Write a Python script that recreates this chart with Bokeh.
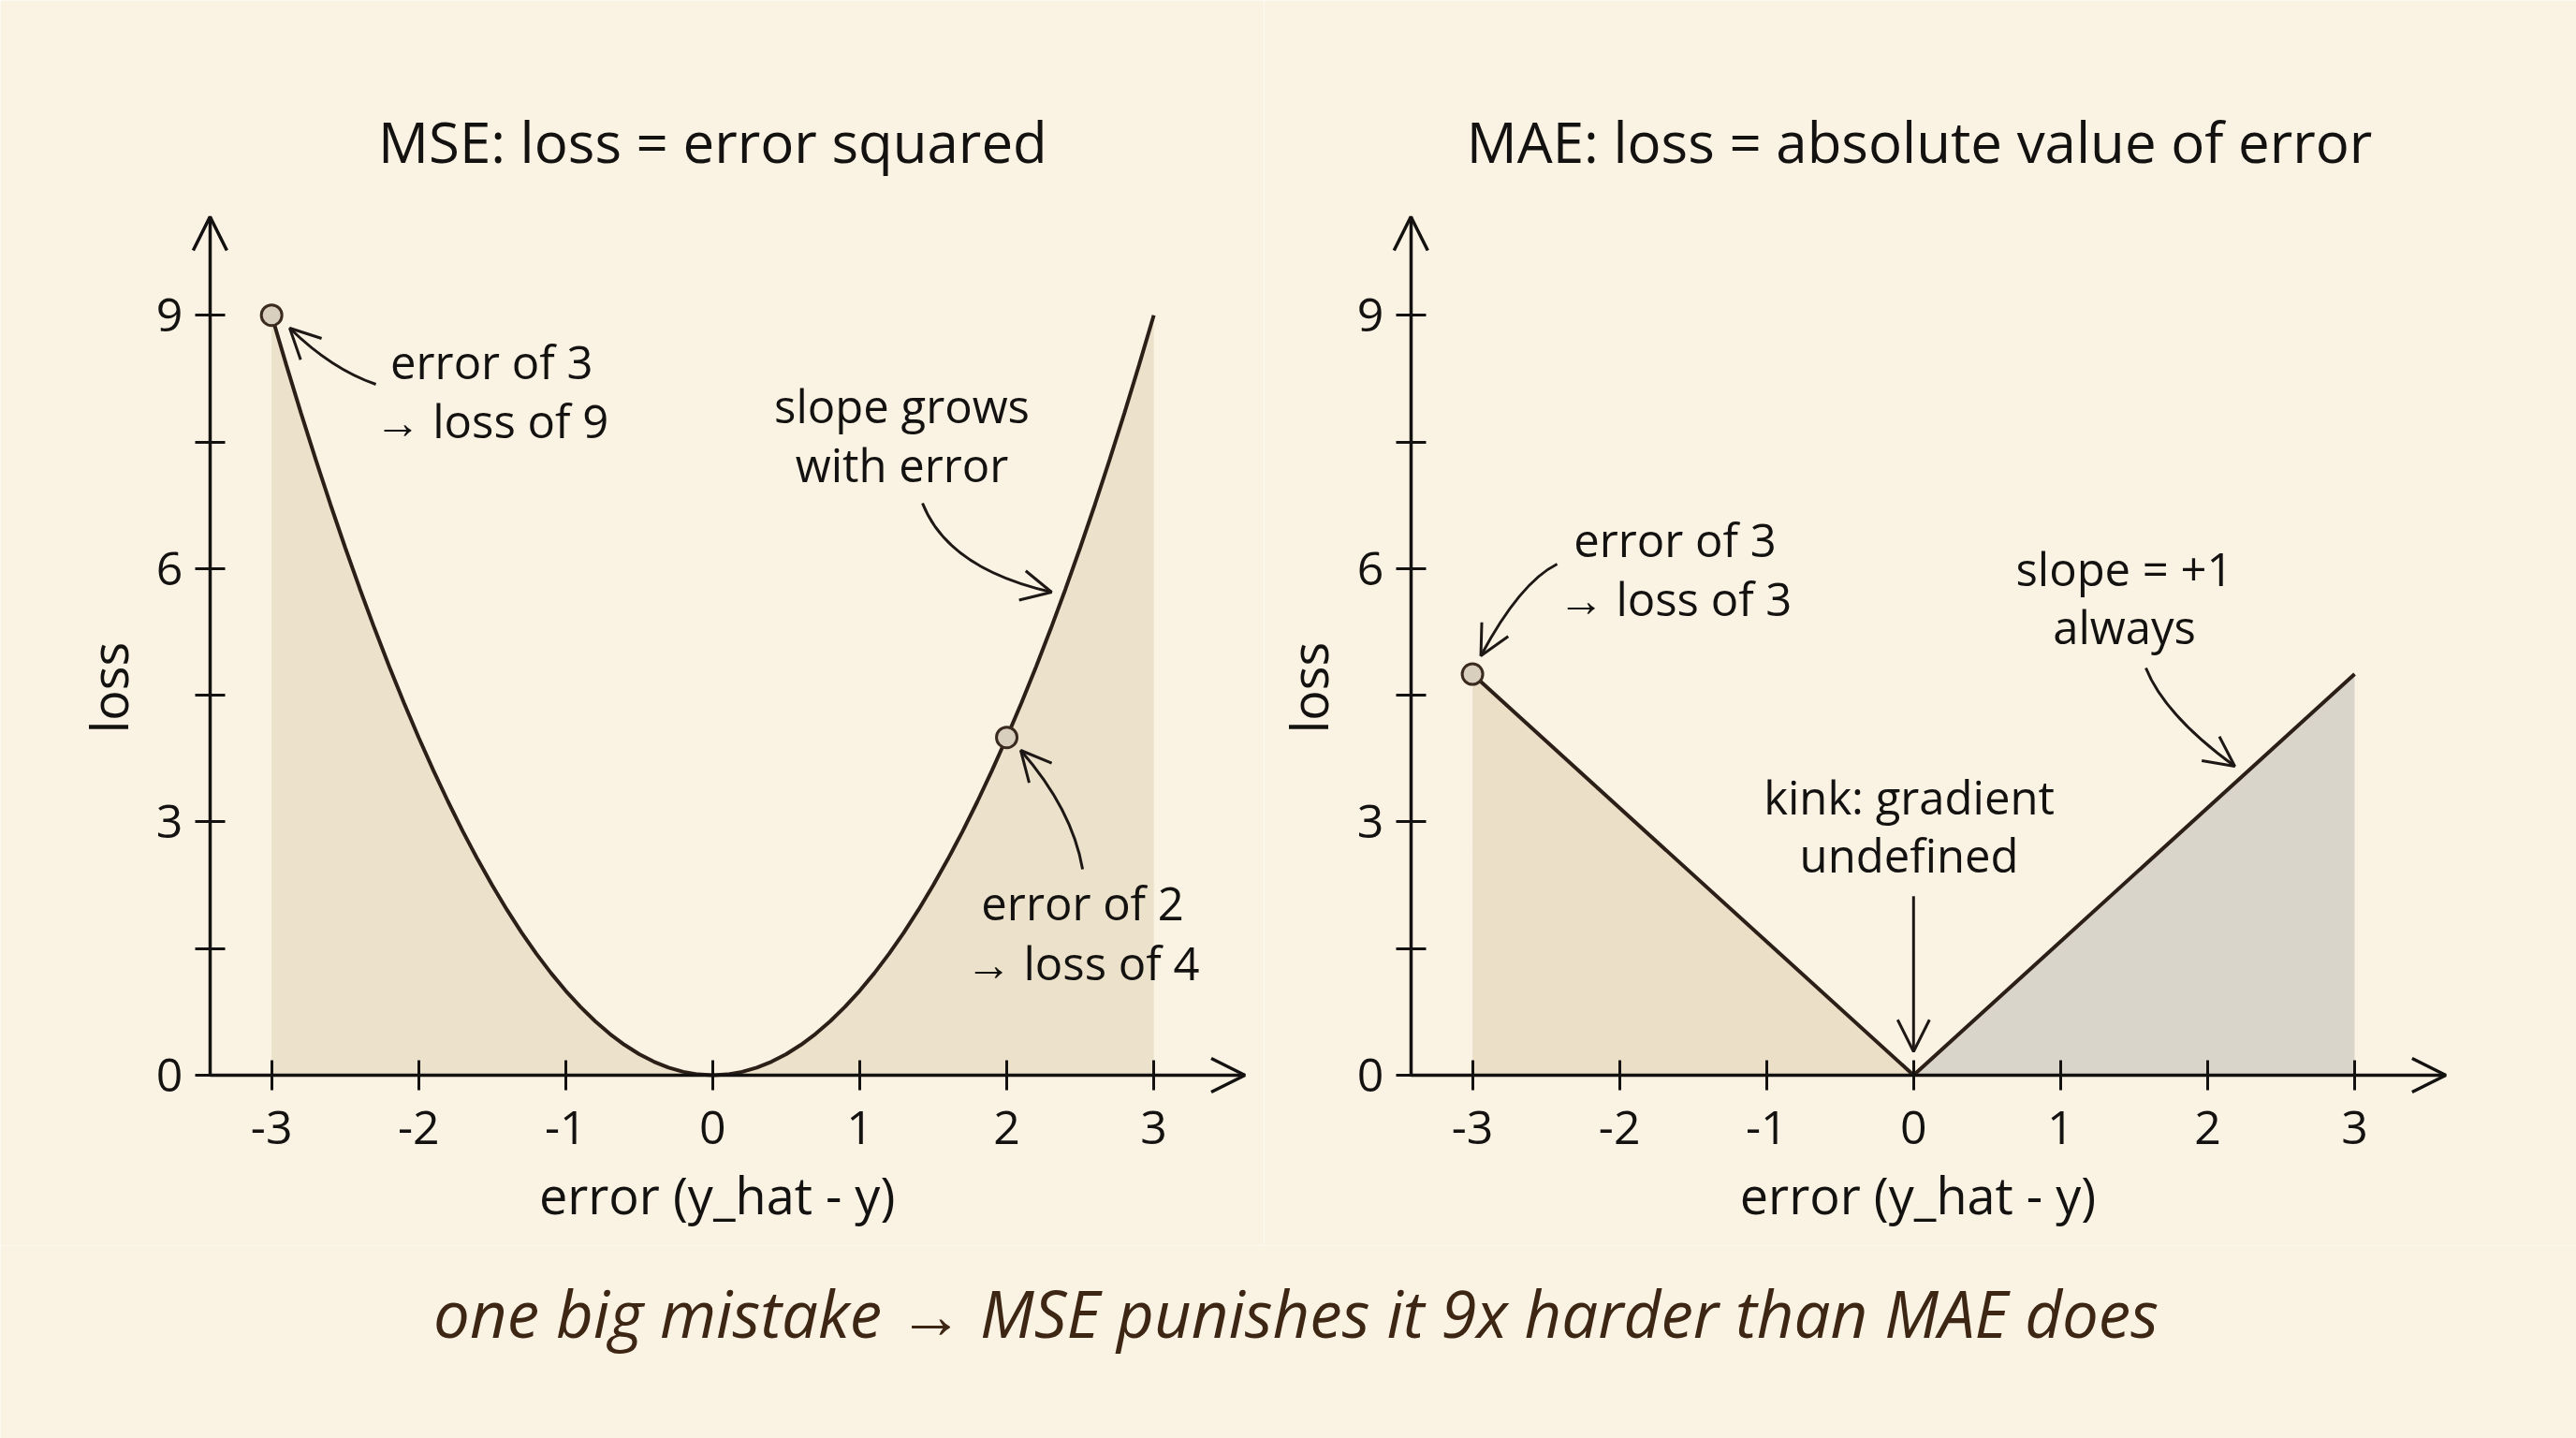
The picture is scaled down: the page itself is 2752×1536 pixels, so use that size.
import math
from bokeh.plotting import figure
from bokeh.layouts import column, row
from bokeh.models import ColumnDataSource, FixedTicker, Arrow, OpenHead, Label, Range1d
from bokeh.embed import file_html
from bokeh.resources import INLINE

# ---------------- data ----------------
errors = [-3.0, -2.9, -2.8, -2.7, -2.6, -2.5, -2.4, -2.3, -2.2, -2.1,
          -2.0, -1.9, -1.8, -1.7, -1.6, -1.5, -1.4, -1.3, -1.2, -1.1,
          -1.0, -0.9, -0.8, -0.7, -0.6, -0.5, -0.4, -0.3, -0.2, -0.1,
          0.0, 0.1, 0.2, 0.3, 0.4, 0.5, 0.6, 0.7, 0.8, 0.9,
          1.0, 1.1, 1.2, 1.3, 1.4, 1.5, 1.6, 1.7, 1.8, 1.9,
          2.0, 2.1, 2.2, 2.3, 2.4, 2.5, 2.6, 2.7, 2.8, 2.9, 3.0]
mse_loss = [9.0, 8.41, 7.84, 7.29, 6.76, 6.25, 5.76, 5.29, 4.84, 4.41,
            4.0, 3.61, 3.24, 2.89, 2.56, 2.25, 1.96, 1.69, 1.44, 1.21,
            1.0, 0.81, 0.64, 0.49, 0.36, 0.25, 0.16, 0.09, 0.04, 0.01,
            0.0, 0.01, 0.04, 0.09, 0.16, 0.25, 0.36, 0.49, 0.64, 0.81,
            1.0, 1.21, 1.44, 1.69, 1.96, 2.25, 2.56, 2.89, 3.24, 3.61,
            4.0, 4.41, 4.84, 5.29, 5.76, 6.25, 6.76, 7.29, 7.84, 8.41, 9.0]
mse_marked_error = [-3, 2]
mse_marked_loss = [9, 4]

mae_error = [-3, 0, 3]
mae_loss = [4.75, 0, 4.75]
mae_marked_error = [-3]
mae_marked_loss = [4.75]

x_ticks = [-3, -2, -1, 0, 1, 2, 3]
x_tick_labels = ["-3", "-2", "-1", "0", "1", "2", "3"]
y_ticks = [0, 3, 6, 9]
y_tick_labels = ["0", "3", "6", "9"]
y_minor_ticks = [1.5, 4.5, 7.5]

titles = ["MSE: loss = error squared", "MAE: loss = absolute value of error"]
x_label = "error (y_hat - y)"
y_label = "loss"
caption = "one big mistake \u2192 MSE punishes it 9x harder than MAE does"

mse_notes = [["error of 3", "\u2192 loss of 9"],
             ["slope grows", "with error"],
             ["error of 2", "\u2192 loss of 4"]]
mae_notes = [["error of 3", "\u2192 loss of 3"],
             ["slope = +1", "always"],
             ["kink: gradient", "undefined"]]

# ---------------- styling / placement ----------------
BG = "#faf3e4"
INK = "#141210"
CURVE = "#2b1f18"
ARROW_INK = "#1d1815"
FONT = "Open Sans"
PX_PER_X = 157.07
PX_PER_Y = 90.2
PANEL_H = 1330
AXIS_Y_PX = 1148
X_LEFT = -3.419      # where the y axis stands
X_ARROW = 3.62       # tip of the x axis arrow
Y_ARROW = 10.166     # tip of the y axis arrow


def make_panel(width, origin_px):
    x_range = Range1d(-origin_px / PX_PER_X, (width - origin_px) / PX_PER_X)
    y_range = Range1d((AXIS_Y_PX - PANEL_H) / PX_PER_Y, AXIS_Y_PX / PX_PER_Y)
    p = figure(width=width, height=PANEL_H, x_range=x_range, y_range=y_range,
               output_backend="svg", toolbar_location=None, min_border=0)
    p.title.visible = False
    p.background_fill_color = BG
    p.border_fill_color = BG
    p.outline_line_color = None
    p.grid.visible = False

    xa = p.xaxis[0]
    xa.ticker = FixedTicker(ticks=x_ticks)
    xa.major_label_overrides = {t: s for t, s in zip(x_ticks, x_tick_labels)}
    xa.fixed_location = 0
    xa.bounds = (X_LEFT, X_ARROW)
    ya = p.yaxis[0]
    ya.ticker = FixedTicker(ticks=y_ticks, minor_ticks=y_minor_ticks)
    ya.major_label_overrides = {t: s for t, s in zip(y_ticks, y_tick_labels)}
    ya.fixed_location = X_LEFT
    ya.bounds = (0, Y_ARROW)
    for ax in (xa, ya):
        ax.axis_line_color = INK
        ax.axis_line_width = 3.5
        ax.major_tick_line_color = INK
        ax.major_tick_line_width = 3
        ax.major_tick_in = 16
        ax.major_tick_out = 16
        ax.major_label_text_font = FONT
        ax.major_label_text_font_size = "50px"
        ax.major_label_text_color = INK
    xa.minor_tick_line_color = None
    ya.minor_tick_line_color = INK
    ya.minor_tick_line_width = 3
    ya.minor_tick_in = 16
    ya.minor_tick_out = 16
    xa.major_label_standoff = 22
    ya.major_label_standoff = 13

    # axis arrow heads
    p.add_layout(Arrow(x_start=X_LEFT, y_start=9.6, x_end=X_LEFT, y_end=Y_ARROW,
                       line_alpha=0,
                       end=OpenHead(size=36, line_color=INK, line_width=3.5)))
    p.add_layout(Arrow(x_start=3.3, y_start=0, x_end=X_ARROW, y_end=0,
                       line_alpha=0,
                       end=OpenHead(size=36, line_color=INK, line_width=3.5)))

    # axis titles
    p.add_layout(Label(x=0.03, y=-1.408, text=x_label, text_align="center",
                       text_baseline="middle", text_font=FONT,
                       text_font_size="54px", text_color=INK))
    p.add_layout(Label(x=-4.112, y=4.59, text=y_label, text_align="center",
                       text_baseline="middle", text_font=FONT, angle=math.pi / 2,
                       text_font_size="54px", text_color=INK))
    return p


def add_title(p, text, x):
    p.add_layout(Label(x=x, y=11.057, text=text, text_align="center",
                       text_baseline="middle", text_font=FONT,
                       text_font_size="60px", text_color=INK))


def add_note(p, lines, x, ys):
    for t, y in zip(lines, ys):
        p.add_layout(Label(x=x, y=y, text=t, text_align="center",
                           text_baseline="middle", text_font=FONT,
                           text_font_size="49px", text_color=INK))


def add_curved_arrow(p, s, c, e):
    src = ColumnDataSource(dict(x0=[s[0]], y0=[s[1]], x1=[e[0]], y1=[e[1]],
                                cx=[c[0]], cy=[c[1]]))
    p.quadratic(x0="x0", y0="y0", x1="x1", y1="y1", cx="cx", cy="cy",
                source=src, line_color=ARROW_INK, line_width=3)
    p.add_layout(Arrow(x_start=c[0], y_start=c[1], x_end=e[0], y_end=e[1],
                       line_alpha=0,
                       end=OpenHead(size=32, line_color=ARROW_INK, line_width=3)))


# ---------------- MSE panel ----------------
p1 = make_panel(1350, 760.9)
p1.varea(x=errors, y1=[0] * len(errors), y2=mse_loss, fill_color="#e6d9bf", fill_alpha=0.72)
p1.line(errors, mse_loss, line_color=CURVE, line_width=4)
p1.scatter(mse_marked_error, mse_marked_loss, size=22, fill_color="#d9cfbf",
           line_color="#3a2a1f", line_width=3)
add_title(p1, titles[0], 0.0)
add_note(p1, mse_notes[0], -1.503, [8.448, 7.750])
add_note(p1, mse_notes[1], 1.287, [7.927, 7.229])
add_note(p1, mse_notes[2], 2.516, [2.040, 1.331])
add_curved_arrow(p1, (-2.291, 8.182), (-2.591, 8.359), (-2.877, 8.847))
add_curved_arrow(p1, (1.427, 6.774), (1.601, 6.0), (2.305, 5.721))
add_curved_arrow(p1, (2.516, 2.439), (2.445, 3.151), (2.095, 3.847))

# ---------------- MAE panel ----------------
p2 = make_panel(1402, 2043.8 - 1350)
p2.varea(x=mae_error[:2], y1=[0, 0], y2=mae_loss[:2], fill_color="#e6d8bd", fill_alpha=0.75)
p2.varea(x=mae_error[1:], y1=[0, 0], y2=mae_loss[1:], fill_color="#cfcbc2", fill_alpha=0.75)
p2.line(mae_error, mae_loss, line_color=CURVE, line_width=4)
p2.scatter(mae_marked_error, mae_marked_loss, size=22, fill_color="#d9cfbf",
           line_color="#3a2a1f", line_width=3)
add_title(p2, titles[1], 0.04)
add_note(p2, mae_notes[0], -1.622, [6.342, 5.654])
add_note(p2, mae_notes[1], 1.434, [5.998, 5.311])
add_note(p2, mae_notes[2], -0.03, [3.293, 2.606])
add_curved_arrow(p2, (-2.424, 6.053), (-2.676, 5.836), (-2.943, 4.967))
add_curved_arrow(p2, (1.580, 4.823), (1.709, 4.261), (2.185, 3.659))
p2.add_layout(Arrow(x_start=0, y_start=2.12, x_end=0, y_end=0.28,
                    line_color=ARROW_INK, line_width=3,
                    end=OpenHead(size=34, line_color=ARROW_INK, line_width=3)))

# ---------------- caption ----------------
cap = figure(width=2752, height=1536 - PANEL_H, x_range=Range1d(0, 2752),
             y_range=Range1d(0, 1536 - PANEL_H),
             output_backend="svg", toolbar_location=None,
             x_axis_type=None, y_axis_type=None, min_border=0)
cap.title.visible = False
cap.background_fill_color = BG
cap.border_fill_color = BG
cap.outline_line_color = None
cap.grid.visible = False
cap.add_layout(Label(x=1384, y=135, text=caption, text_align="center",
                     text_baseline="middle", text_font=FONT,
                     text_font_style="italic", text_font_size="69px",
                     text_color="#3d2613"))

layout = column(row(p1, p2), cap)
open("out.html", "w").write(file_html(layout, INLINE))
